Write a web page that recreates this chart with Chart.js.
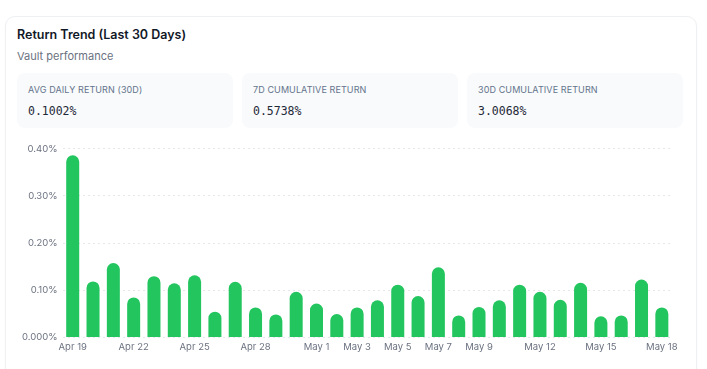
<!DOCTYPE html>
<html>
<head>
<meta charset="utf-8">
<script src="https://cdn.jsdelivr.net/npm/chart.js@4"></script>
<style>
  html, body { margin: 0; padding: 0; background: #fff; }
  body { width: 707px; height: 369px; overflow: hidden; font-family: Inter, "Noto Sans", sans-serif; }
  .card {
    position: absolute; left: 5px; top: 16px; width: 692px; height: 380px;
    border: 1px solid #eef0f3; border-radius: 10px; background: #fff;
    box-shadow: 0 1px 2px rgba(15, 23, 42, 0.04);
    box-sizing: border-box;
  }
  .title { position: absolute; left: 11px; top: 10px; font-size: 12.5px; font-weight: 600; color: #111827; }
  .subtitle { position: absolute; left: 11px; top: 32px; font-size: 11px; color: #6b7280; }
  .stats { position: absolute; left: 11px; top: 56px; display: flex; gap: 9px; }
  .stat { width: 216px; height: 55px; background: #f8fafc; border-radius: 8px; position: relative; }
  .stat .label { position: absolute; left: 11px; top: 11px; font-size: 9px; color: #64748b; letter-spacing: 0.1px; }
  .stat .value { position: absolute; left: 11px; top: 31px; font-size: 11.5px; color: #1f2937; font-family: "DejaVu Sans Mono", monospace; }
  .chart-box { position: absolute; left: 11px; top: 121px; width: 666px; height: 219px; }
</style>
</head>
<body>
<div class="card">
  <div class="title">Return Trend (Last 30 Days)</div>
  <div class="subtitle">Vault performance</div>
  <div class="stats">
    <div class="stat"><div class="label">AVG DAILY RETURN (30D)</div><div class="value">0.1002%</div></div>
    <div class="stat"><div class="label">7D CUMULATIVE RETURN</div><div class="value">0.5738%</div></div>
    <div class="stat"><div class="label">30D CUMULATIVE RETURN</div><div class="value">3.0068%</div></div>
  </div>
  <div class="chart-box"><canvas id="returnChart"></canvas></div>
</div>
<script>
const days = [
  "Apr 19", "Apr 20", "Apr 21", "Apr 22", "Apr 23", "Apr 24", "Apr 25", "Apr 26", "Apr 27", "Apr 28",
  "Apr 29", "Apr 30", "May 1", "May 2", "May 3", "May 4", "May 5", "May 6", "May 7", "May 8",
  "May 9", "May 10", "May 11", "May 12", "May 13", "May 14", "May 15", "May 16", "May 17", "May 18",
];
// daily return, in percent
const dailyReturn = [
  0.386, 0.119, 0.158, 0.085, 0.130, 0.115, 0.132, 0.055, 0.118, 0.064,
  0.049, 0.097, 0.072, 0.050, 0.064, 0.079, 0.112, 0.088, 0.149, 0.047,
  0.065, 0.079, 0.112, 0.097, 0.080, 0.116, 0.045, 0.047, 0.123, 0.064,
];
const shownTicks = ["Apr 19", "Apr 22", "Apr 25", "Apr 28", "May 1", "May 3", "May 5", "May 7", "May 9", "May 12", "May 15", "May 18"];
const yTicks = [0, 0.1, 0.2, 0.3, 0.4];

const tickFont = { family: "Inter, 'Noto Sans', sans-serif", size: 9.5 };

new Chart(document.getElementById("returnChart"), {
  type: "bar",
  data: {
    labels: days,
    datasets: [
      {
        label: "Daily Return",
        data: dailyReturn,
        backgroundColor: "#22c55e",
        borderRadius: 8,
        borderSkipped: "bottom",
        barPercentage: 0.8,
        categoryPercentage: 0.8,
      },
    ],
  },
  options: {
    responsive: true,
    maintainAspectRatio: false,
    animation: false,
    layout: { padding: { right: 11, top: 2 } },
    plugins: {
      legend: { display: false },
      tooltip: { enabled: false },
    },
    scales: {
      x: {
        grid: { display: false, drawTicks: false },
        border: { display: false },
        ticks: {
          autoSkip: false,
          maxRotation: 0,
          color: "#6b7280",
          font: tickFont,
          padding: 4,
          callback(value) {
            const label = days[value];
            return shownTicks.includes(label) ? label : "";
          },
        },
      },
      y: {
        min: yTicks[0],
        max: yTicks[yTicks.length - 1],
        afterBuildTicks(axis) {
          axis.ticks = yTicks.map((v) => ({ value: v }));
        },
        grid: { color: "#e5e7eb", drawTicks: false },
        border: { display: false, dash: [2, 3] },
        ticks: {
          color: "#6b7280",
          font: tickFont,
          padding: 5,
          callback(value) {
            return value === 0 ? "0.000%" : value.toFixed(2) + "%";
          },
        },
      },
    },
  },
});
</script>
</body>
</html>
